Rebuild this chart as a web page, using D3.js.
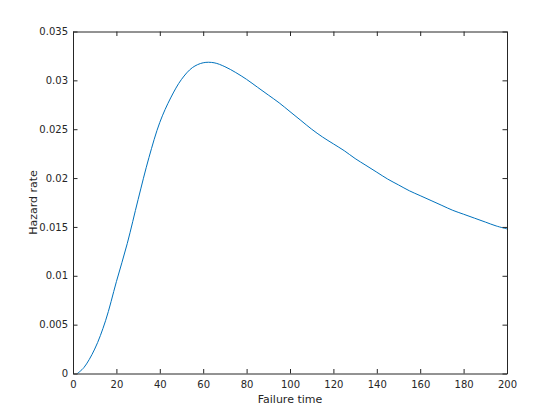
<!DOCTYPE html>
<html>
<head>
<meta charset="utf-8">
<script src="https://cdn.jsdelivr.net/npm/d3@7"></script>
<style>
  body { margin: 0; background: #fff; }
  text { font-family: "DejaVu Sans", sans-serif; fill: #262626; }
</style>
</head>
<body>
<script>
// failure time (x) and hazard rate (y)
var times = [2, 5, 10, 15, 20, 25, 30, 35, 40, 45, 50, 55, 60, 65, 70, 75, 80, 85, 90, 95,
  100, 105, 110, 115, 120, 125, 130, 135, 140, 145, 150, 155, 160, 165, 170, 175, 180, 185, 190, 195, 200];
var hazard = [0, 0.0006, 0.0025, 0.0054, 0.0094, 0.0133, 0.0178, 0.0221, 0.0257, 0.0282,
  0.0301, 0.0313, 0.0318, 0.0318, 0.0314, 0.0308, 0.0301, 0.0293, 0.0285, 0.0277,
  0.0268, 0.0259, 0.0250, 0.0242, 0.0235, 0.0228, 0.0220, 0.0213, 0.0206, 0.0199,
  0.0193, 0.0187, 0.0182, 0.0177, 0.0172, 0.0167, 0.0163, 0.0159, 0.0155, 0.0151, 0.0148];

var xTicks = [0, 20, 40, 60, 80, 100, 120, 140, 160, 180, 200];
var yTicks = [0, 0.005, 0.01, 0.015, 0.02, 0.025, 0.03, 0.035];
var yTickLabels = ["0", "0.005", "0.01", "0.015", "0.02", "0.025", "0.03", "0.035"];

var svgWidth = 560;
var svgHeight = 420;

var margin = { top: 31.5, right: 53, bottom: 46.5, left: 73 };
var width = svgWidth - margin.left - margin.right;
var height = svgHeight - margin.top - margin.bottom;

var svg = d3.select("body")
  .append("svg")
  .attr("width", svgWidth)
  .attr("height", svgHeight);

var chartGroup = svg.append("g")
  .attr("transform", `translate(${margin.left}, ${margin.top})`);

var x = d3.scaleLinear().domain([0, 200]).range([0, width]);
var y = d3.scaleLinear().domain([0, 0.035]).range([height, 0]);

var data = times.map((t, i) => ({ t: t, h: hazard[i] }));

// the curve
chartGroup.append("path")
  .datum(data)
  .attr("fill", "none")
  .attr("stroke", "#0072BD")
  .attr("stroke-width", 1)
  .attr("d", d3.line().x(d => x(d.t)).y(d => y(d.h)).curve(d3.curveCatmullRom));

// axes with inward ticks, box on
var tickLen = 4.5;
function styleAxis(g) {
  g.attr("font-family", null);
  g.select(".domain").attr("stroke", "#262626");
  g.selectAll(".tick line").attr("stroke", "#262626");
  g.selectAll(".tick text").attr("font-size", 10).attr("fill", "#262626");
}

chartGroup.append("g")
  .attr("transform", `translate(0, ${height})`)
  .call(d3.axisBottom(x).tickValues(xTicks).tickFormat(d3.format("d"))
    .tickSizeInner(-tickLen).tickSizeOuter(0).tickPadding(7))
  .call(styleAxis);

chartGroup.append("g")
  .call(d3.axisTop(x).tickValues(xTicks).tickFormat("")
    .tickSizeInner(-tickLen).tickSizeOuter(0))
  .call(styleAxis);

chartGroup.append("g")
  .call(d3.axisLeft(y).tickValues(yTicks).tickFormat((d, i) => yTickLabels[i])
    .tickSizeInner(-tickLen).tickSizeOuter(0).tickPadding(5))
  .call(styleAxis);

chartGroup.append("g")
  .attr("transform", `translate(${width}, 0)`)
  .call(d3.axisRight(y).tickValues(yTicks).tickFormat("")
    .tickSizeInner(-tickLen).tickSizeOuter(0))
  .call(styleAxis);

// axis labels
chartGroup.append("text")
  .attr("x", width / 2)
  .attr("y", height + 29)
  .attr("text-anchor", "middle")
  .attr("font-size", 11)
  .text("Failure time");

chartGroup.append("text")
  .attr("transform", "rotate(-90)")
  .attr("x", -height / 2)
  .attr("y", -36)
  .attr("text-anchor", "middle")
  .attr("font-size", 11)
  .text("Hazard rate");
</script>
</body>
</html>
